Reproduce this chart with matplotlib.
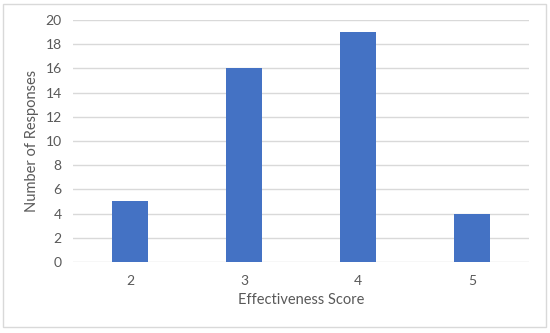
import matplotlib.pyplot as plt
from matplotlib.patches import Rectangle

# dados
scores = ['2', '3', '4', '5']
responses = [5, 16, 19, 4]

plt.rcParams['font.family'] = ['Lato', 'DejaVu Sans']

fig = plt.figure(figsize=(5.5, 3.33), dpi=100)
ax = fig.add_axes([0.1327, 0.2132, 0.8291, 0.7268])

ax.bar(scores, responses, width=0.32, color='#4472C4', zorder=3)

ax.set_xlim(-0.5, 3.5)
ax.set_ylim(0, 20)
ax.set_yticks(range(0, 21, 2))
ax.grid(axis='y', color='#d9d9d9', linewidth=1, zorder=0)
for s in ax.spines.values():
    s.set_visible(False)
ax.tick_params(length=0, labelsize=10, colors='#595959', pad=8)
ax.tick_params(axis='x', pad=9)

ax.set_xlabel('Effectiveness Score', fontsize=10.5, color='#595959', labelpad=5)
ax.set_ylabel('Number of Responses', fontsize=10.5, color='#595959', labelpad=5)

# borda do grafico
fig.patches.append(Rectangle((0.006, 0.018), 0.987, 0.97, transform=fig.transFigure,
                             fill=False, edgecolor='#d9d9d9', linewidth=1))

fig.savefig('out.png', dpi=100)
